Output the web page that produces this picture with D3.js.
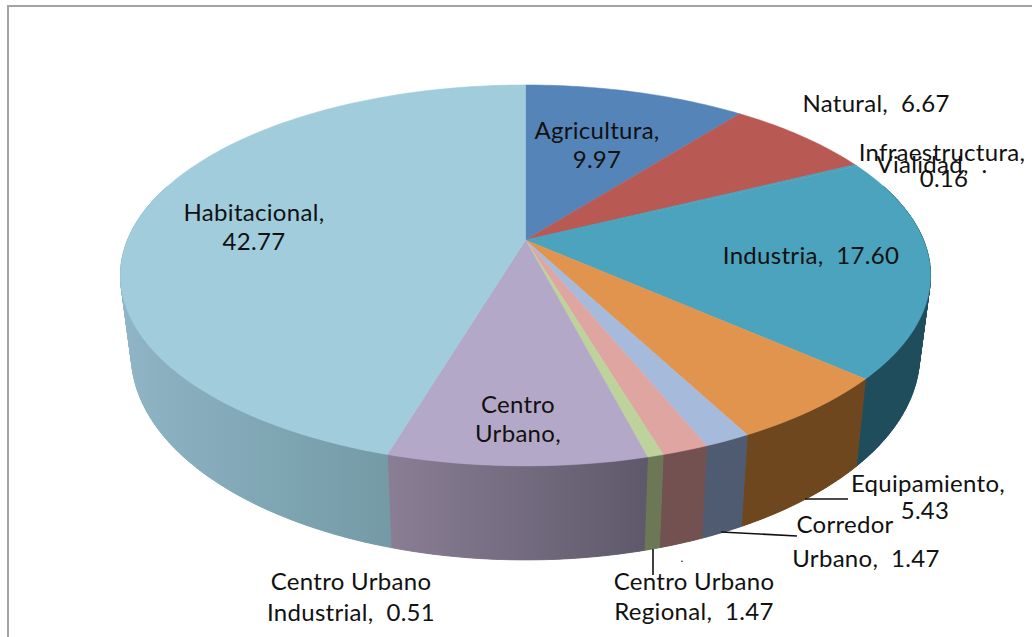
<!DOCTYPE html>
<html><head><meta charset="utf-8">
<script src="https://cdn.jsdelivr.net/npm/d3@7/dist/d3.min.js"></script>
<style>html,body{margin:0;background:#fff}svg{display:block}text{font-family:Lato,"Open Sans",sans-serif;font-size:24px;letter-spacing:.3px;fill:#111}</style>
</head><body><svg id="c" width="1032" height="637"></svg>
<script>
const categories=["Agricultura","Natural","Infraestructura","Vialidad","Industria","Equipamiento","Corredor Urbano","Centro Urbano Regional","Centro Urbano Industrial","Centro Urbano","Habitacional"];
const values=[9.97,6.67,0.02,0.16,17.60,5.43,1.47,1.47,0.51,8.15,42.77];
const topColors=["#5585b8","#b85a53","#b85a53","#4f9fb8","#4ba3bd","#e1944e","#a6bbdc","#dfa5a1","#bed39c","#b3a8c7","#a0ccdc"];
const wallFrom=["#5585b8","#b85a53","#b85a53","#4f9fb8","#1f4d5c","#6f471f","#4f5b70","#725150","#6c7855","#5e596a","#739aa5"];
const wallTo=["#5585b8","#b85a53","#b85a53","#4f9fb8","#1f4d5c","#6f471f","#4f5b70","#725150","#6c7855","#8a7e95","#8fb5c6"];
const labelTexts=[["Agricultura,","9.97"],["Natural,  6.67"],["Infraestructura,"],["Vialidad,  .","0.16"],["Industria,  17.60"],["Equipamiento,","5.43"],["Corredor","Urbano,  1.47"],["Centro Urbano","Regional,  1.47"],["Centro Urbano","Industrial,  0.51"],["Centro","Urbano,"],["Habitacional,","42.77"]];
const labelAnchor=[[[597,139],[597,168]],[[876,112]],[[942,161]],[[932,173],[944,187]],[[811,264]],[[928,492],[925,519]],[[845,533],[866,567]],[[694,590],[694,620]],[[351,590],[351,621]],[[518,413],[518,442]],[[254,221],[254,250]]];
const svg=d3.select("#c");
svg.append("rect").attr("x",8).attr("y",6).attr("width",1100).attr("height",700).attr("fill","#fff").attr("stroke","#a3a3a3").attr("stroke-width",2);
const pie=d3.pie().sort(null).value(d=>d).startAngle(0).endAngle(2*Math.PI);
const arcs=pie(values);
const k=-0.186,a=398,b=183.9,cx=525.5,cy=240;
const topPt=t=>{const u=Math.sin(t),v=-Math.cos(t),w=1+k*v;return [cx+a*u/w,cy+b*v/w];};
const botPt=t=>{const [x,y]=topPt(t);return [cx+(x-cx)*0.973,355+(y-275.5)*205/190.5];};
const line=d3.line();
const samples=(s,e,n)=>d3.range(n+1).map(i=>s+(e-s)*i/n);
const lim0=Math.PI*0.4,lim1=Math.PI*1.6;
const defs=svg.append("defs"),wallG=svg.append("g");
arcs.forEach((d,i)=>{
  const s=Math.max(d.startAngle,lim0),e=Math.min(d.endAngle,lim1);
  if(e<=s)return;
  const st=samples(s,e,Math.ceil((e-s)/0.012)+1);
  const tp=st.map(topPt),bp=st.map(botPt);
  const xs=[...tp,...bp].map(p=>p[0]);
  const g=defs.append("linearGradient").attr("id","w"+i).attr("gradientUnits","userSpaceOnUse")
    .attr("x1",d3.max(xs)).attr("x2",d3.min(xs)).attr("y1",0).attr("y2",0);
  g.append("stop").attr("offset",0).attr("stop-color",wallFrom[i]);
  g.append("stop").attr("offset",1).attr("stop-color",wallTo[i]);
  const seg=wallG.append("g").attr("fill",`url(#w${i})`).attr("stroke",`url(#w${i})`).attr("stroke-width",0.8);
  d3.pairs(st).forEach(([p,q])=>seg.append("path").attr("d",line([topPt(p),topPt(q),botPt(q),botPt(p)])+"Z"));
  seg.append("path").attr("d",line([...tp,...bp.slice().reverse()])+"Z").attr("stroke","none");
});
arcs.forEach((d,i)=>{
  const n=Math.max(2,Math.ceil((d.endAngle-d.startAngle)/0.02));
  const pts=[[cx,cy],...samples(d.startAngle,d.endAngle,n).map(topPt)];
  svg.append("path").attr("d",line(pts)+"Z").attr("fill",topColors[i]).attr("stroke",topColors[i]).attr("stroke-width",0.5);
});
const leaders=[[[805,499],[848,499]],[[721,532],[797,536]],[[653,549],[653,575]]];
leaders.forEach(l=>svg.append("path").attr("d",line(l)).attr("fill","none").attr("stroke","#111").attr("stroke-width",1.6));
labelTexts.forEach((lines,i)=>lines.forEach((s,j)=>{
  const [x,y]=labelAnchor[i][j];
  svg.append("text").attr("text-anchor","middle").attr("x",x).attr("y",y).style("white-space","pre").text(s);
}));
svg.append("text").attr("x",682).attr("y",562).attr("text-anchor","middle").style("font-size","12px").text(".");
</script></body></html>
